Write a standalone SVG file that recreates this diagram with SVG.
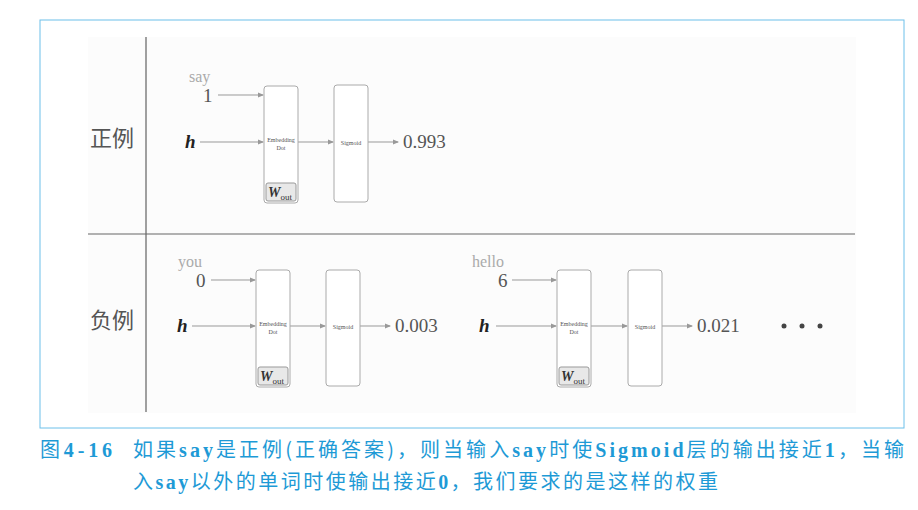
<svg xmlns="http://www.w3.org/2000/svg" width="918" height="510" viewBox="0 0 918 510">
<defs>
<marker id="a" markerWidth="6" markerHeight="6" refX="5" refY="3" orient="auto" markerUnits="userSpaceOnUse"><path d="M0,0.5 L6,3 L0,5.5 z" fill="#999"/></marker>
<style>
.ln{stroke:#999;stroke-width:1;fill:none;marker-end:url(#a)}
.box{fill:#fff;stroke:#aaa;stroke-width:1}
.w{fill:#e8e8e8;stroke:#999;stroke-width:1}
.s{font-family:"Liberation Serif",serif;font-size:6px;fill:#555;text-anchor:middle}
.num{font-family:"Liberation Serif",serif;font-size:19px;fill:#555}
.g{font-family:"Liberation Serif",serif;font-size:16px;fill:#aaa}
.h{font-family:"Liberation Serif",serif;font-size:19px;font-weight:bold;font-style:italic;fill:#222}
.cj{font-family:"Noto Sans CJK SC",sans-serif;font-size:22px;fill:#555}
.cap{font-family:"Noto Sans CJK SC",sans-serif;font-size:20px;fill:#1e9ad6}
</style>
</defs>
<rect x="40" y="20" width="864" height="408" fill="#fff" stroke="#6cc0ea" stroke-width="1"/>
<rect x="88" y="37" width="768" height="376" fill="#fcfcfc"/>
<line x1="146" y1="37" x2="146" y2="412" stroke="#444"/>
<line x1="88" y1="234" x2="855" y2="234" stroke="#666"/>
<text class="cj" x="90" y="146">正例</text>
<text class="cj" x="90" y="328">负例</text>
<g id="connectors">
<line class="ln" x1="218" y1="95" x2="263" y2="95"/>
<line class="ln" x1="200" y1="142" x2="263" y2="142"/>
<line class="ln" x1="298" y1="142" x2="333" y2="142"/>
<line class="ln" x1="368" y1="142" x2="398" y2="142"/>
<line class="ln" x1="211" y1="280" x2="255" y2="280"/>
<line class="ln" x1="192" y1="326" x2="255" y2="326"/>
<line class="ln" x1="290" y1="326" x2="325" y2="326"/>
<line class="ln" x1="360" y1="326" x2="390" y2="326"/>
<line class="ln" x1="512" y1="280" x2="556" y2="280"/>
<line class="ln" x1="496" y1="326" x2="556" y2="326"/>
<line class="ln" x1="591" y1="326" x2="627" y2="326"/>
<line class="ln" x1="662" y1="326" x2="692" y2="326"/>
</g>
<g id="pos">
<text class="g" x="189" y="82">say</text>
<text class="num" x="203" y="102">1</text>
<text class="h" x="185" y="148">h</text>
<rect class="box" x="264" y="86" width="34" height="117" rx="3"/>
<text class="s" x="281" y="142">Embedding</text><text class="s" x="281" y="150">Dot</text>
<rect class="w" x="266" y="183" width="30" height="18" rx="2"/>
<text x="268" y="197" font-family="Liberation Serif,serif" font-size="14" font-weight="bold" font-style="italic" fill="#333">W<tspan font-size="9" font-weight="normal" font-style="normal" dy="3">out</tspan></text>
<rect class="box" x="334" y="85" width="34" height="117" rx="3"/>
<text class="s" x="351" y="145">Sigmoid</text>
<text class="num" x="403" y="148">0.993</text>
</g>
<g id="neg1">
<text class="g" x="178" y="267">you</text>
<text class="num" x="196" y="287">0</text>
<text class="h" x="177" y="332">h</text>
<rect class="box" x="256" y="270" width="34" height="117" rx="3"/>
<text class="s" x="273" y="326">Embedding</text><text class="s" x="273" y="334">Dot</text>
<rect class="w" x="258" y="367" width="30" height="18" rx="2"/>
<text x="260" y="381" font-family="Liberation Serif,serif" font-size="14" font-weight="bold" font-style="italic" fill="#333">W<tspan font-size="9" font-weight="normal" font-style="normal" dy="3">out</tspan></text>
<rect class="box" x="326" y="270" width="34" height="116" rx="3"/>
<text class="s" x="343" y="329">Sigmoid</text>
<text class="num" x="395" y="332">0.003</text>
</g>
<g id="neg2">
<text class="g" x="472" y="267">hello</text>
<text class="num" x="498" y="287">6</text>
<text class="h" x="479" y="332">h</text>
<rect class="box" x="557" y="270" width="34" height="117" rx="3"/>
<text class="s" x="574" y="326">Embedding</text><text class="s" x="574" y="334">Dot</text>
<rect class="w" x="559" y="367" width="30" height="18" rx="2"/>
<text x="561" y="381" font-family="Liberation Serif,serif" font-size="14" font-weight="bold" font-style="italic" fill="#333">W<tspan font-size="9" font-weight="normal" font-style="normal" dy="3">out</tspan></text>
<rect class="box" x="628" y="270" width="34" height="116" rx="3"/>
<text class="s" x="645" y="329">Sigmoid</text>
<text class="num" x="697" y="332">0.021</text>
<circle cx="784" cy="326" r="2.5" fill="#444"/><circle cx="802" cy="326" r="2.5" fill="#444"/><circle cx="820" cy="326" r="2.5" fill="#444"/>
</g>
<text class="cap" x="40" y="457" textLength="72" lengthAdjust="spacing">图<tspan font-family="Liberation Serif,serif" font-weight="bold">4-16</tspan></text>
<text class="cap" x="133" y="457" textLength="771" lengthAdjust="spacing">如果<tspan font-family="Liberation Serif,serif" font-weight="bold">say</tspan>是正例(正确答案)，则当输入<tspan font-family="Liberation Serif,serif" font-weight="bold">say</tspan>时使<tspan font-family="Liberation Serif,serif" font-weight="bold">Sigmoid</tspan>层的输出接近<tspan font-family="Liberation Serif,serif" font-weight="bold">1</tspan>，当输</text>
<text class="cap" x="133" y="489" textLength="585" lengthAdjust="spacing">入<tspan font-family="Liberation Serif,serif" font-weight="bold">say</tspan>以外的单词时使输出接近<tspan font-family="Liberation Serif,serif" font-weight="bold">0</tspan>，我们要求的是这样的权重</text>
</svg>
